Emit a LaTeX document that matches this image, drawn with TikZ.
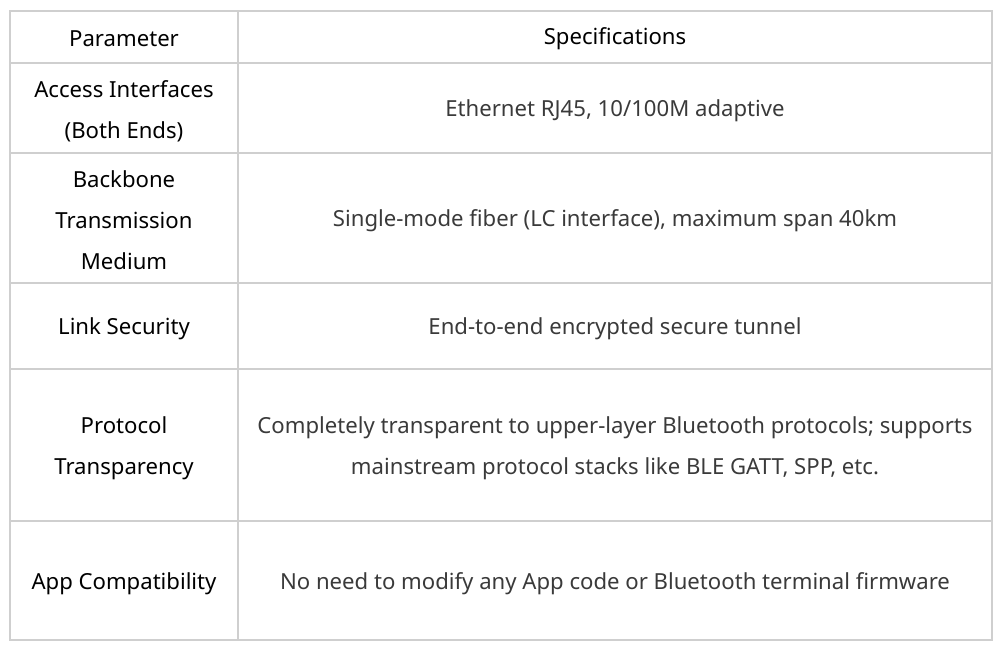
\documentclass[tikz,border=0pt]{standalone}
\usepackage{fontspec}
\setmainfont{Noto Sans}
\usepackage{xcolor}
\definecolor{gridgray}{HTML}{CFCFCF}
\definecolor{spectext}{HTML}{3A3A3A}

\begin{document}
\begin{tikzpicture}[x=0.02cm,y=-0.02cm]
    \useasboundingbox (0,0) rectangle (1000,649);

    % grid
    \begin{scope}[draw=gridgray,line width=1.1pt]
      \draw (10,11) rectangle (992,640);
      \draw (238,11) -- (238,640);
      \foreach \y in {63,153,283,369,521}
        \draw (10,\y) -- (992,\y);
    \end{scope}

    % parameter column
    \begin{scope}[every node/.style={align=center,font=\fontsize{12.6}{23.5}\selectfont,text=black}]
      \node (p0) at (124,39) {Parameter};
      \node (p1) at (124,111) {Access Interfaces\\(Both Ends)};
      \node (p2) at (124,220) {Backbone\\Transmission\\Medium};
      \node (p3) at (124,329) {Link Security};
      \node (p4) at (124,448) {Protocol\\Transparency};
      \node (p5) at (124,584) {App Compatibility};
    \end{scope}

    % specification column
    \begin{scope}[every node/.style={align=center,font=\fontsize{12.6}{23.5}\selectfont,text=spectext}]
      \node[text=black] (s0) at (615,39) {Specifications};
      \node (s1) at (615,111) {Ethernet RJ45, 10/100M adaptive};
      \node (s2) at (615,221) {Single-mode fiber (LC interface), maximum span 40km};
      \node (s3) at (615,329) {End-to-end encrypted secure tunnel};
      \node (s4) at (615,448) {Completely transparent to upper-layer Bluetooth protocols; supports\\mainstream protocol stacks like BLE GATT, SPP, etc.};
      \node (s5) at (615,584) {No need to modify any App code or Bluetooth terminal firmware};
    \end{scope}
  \end{tikzpicture}
\end{document}
